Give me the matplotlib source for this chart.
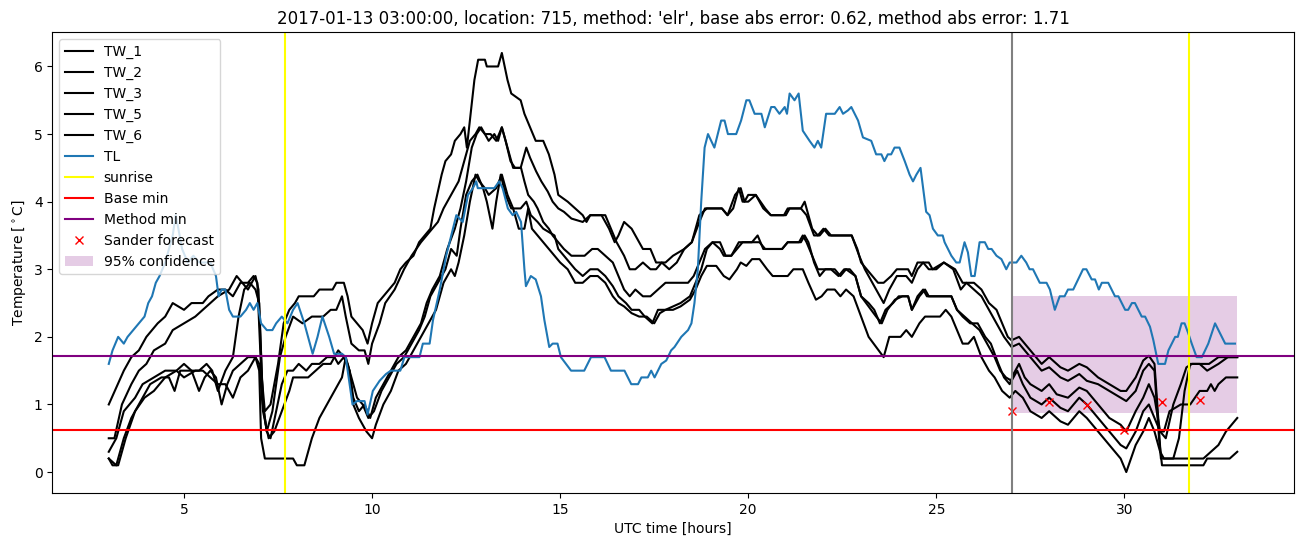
import numpy as np
import matplotlib
matplotlib.use("Agg")
import matplotlib.pyplot as plt

# readings from the station, hours since 2017-01-13 00:00 UTC
tw1_t = [3.0,3.4,3.6,3.8,4.0,4.3,4.5,4.7,5.0,5.2,5.5,5.65,5.9,6.1,6.3,6.5,6.7,6.85,6.95,7.05,7.15,7.3,7.5,7.65,7.8,7.95,8.05,8.25,8.45,8.6,8.95,9.05,9.25,9.35,9.45,9.6,9.75,9.88,10.0,10.15,10.3,10.45,10.6,10.75,10.9,11.1,11.25,11.4,11.55,11.65,11.85,11.95,12.1,12.2,12.35,12.45,12.52,12.62,12.72,12.82,13.0,13.05,13.35,13.45,13.6,13.7,13.95,14.05,14.2,14.35,14.55,14.7,14.85,14.95,15.2,15.4,15.6,15.7,15.8,16.1,16.3,16.45,16.55,16.7,16.9,17.0,17.2,17.4,17.55,17.8,18.0,18.3,18.5,18.7,18.9,19.3,19.45,19.65,19.8,19.9,20.0,20.2,20.45,20.6,20.95,21.05,21.4,21.5,21.7,21.85,22.0,22.15,22.75,22.9,23.0,23.15,23.3,23.45,23.6,23.8,23.95,24.25,24.35,24.5,24.8,24.9,25.2,25.5,25.7,26.0,26.2,26.4,26.6,26.75,26.9,27.0,27.2,27.5,27.8,28.0,28.3,28.5,28.8,29.0,29.3,29.6,29.9,30.05,30.3,30.5,30.65,30.8,30.9,30.97,32.1,32.3,32.5,32.7,33.0]
tw1_v = [1.0,1.5,1.7,1.8,2.0,2.2,2.3,2.5,2.4,2.5,2.5,2.6,2.7,2.7,2.6,2.8,2.8,2.9,2.8,1.5,0.9,1.0,1.6,2.2,2.4,2.5,2.6,2.6,2.6,2.7,2.7,2.8,2.8,2.6,2.3,2.2,2.1,1.9,2.2,2.5,2.6,2.7,2.8,3.0,3.1,3.2,3.4,3.5,3.6,3.9,4.4,4.6,4.7,4.9,5.0,5.1,4.8,5.3,5.8,6.1,6.1,6.0,6.0,6.2,5.8,5.6,5.5,5.3,5.1,4.9,4.9,4.7,4.4,4.1,4.0,3.9,3.8,3.7,3.8,3.8,3.6,3.4,3.5,3.7,3.6,3.5,3.3,3.3,3.1,3.1,3.2,3.3,3.4,3.8,3.9,3.9,3.8,4.1,4.2,4.0,4.1,4.1,3.9,3.8,3.8,3.9,3.9,4.0,3.6,3.5,3.6,3.5,3.5,3.3,3.1,3.0,2.9,2.8,2.8,2.9,3.0,3.0,2.9,3.1,3.1,3.0,3.1,3.0,2.8,2.8,2.7,2.5,2.4,2.2,2.0,1.95,2.0,1.8,1.6,1.7,1.55,1.5,1.6,1.55,1.4,1.3,1.2,1.2,1.4,1.65,1.72,1.6,0.8,0.2,0.2,0.3,0.4,0.6,0.8]

tw2_t = [3.0,3.15,3.35,3.6,3.8,4.0,4.2,4.5,4.7,5.0,5.3,5.5,5.7,5.9,6.2,6.4,6.55,6.7,6.9,6.98,7.1,7.2,7.35,7.55,7.7,7.9,8.15,8.4,8.7,8.9,9.05,9.2,9.3,9.45,9.65,9.8,9.9,10.0,10.2,10.35,10.6,10.85,11.05,11.3,11.6,11.75,11.9,12.1,12.3,12.45,12.6,12.75,12.85,13.0,13.1,13.25,13.35,13.45,13.6,13.75,13.95,14.1,14.2,14.36,14.5,14.67,14.8,14.95,15.1,15.3,15.6,15.8,16.0,16.2,16.35,16.5,16.7,16.85,17.0,17.2,17.4,17.55,17.7,17.9,18.1,18.3,18.5,18.7,18.85,19.3,19.45,19.6,19.75,19.85,20.0,20.2,20.4,20.6,21.0,21.1,21.4,21.55,21.75,21.9,22.05,22.2,22.75,22.95,23.1,23.3,23.5,23.6,23.75,23.95,24.2,24.35,24.5,24.65,24.8,25.0,25.2,25.45,25.65,25.8,26.0,26.2,26.4,26.6,26.8,27.0,27.2,27.5,27.8,28.0,28.3,28.5,28.8,29.0,29.3,29.6,29.9,30.05,30.3,30.5,30.65,30.8,30.92,31.0,32.1,32.2,32.8,33.0]
tw2_v = [0.5,0.5,1.0,1.3,1.5,1.6,1.8,1.9,2.1,2.2,2.3,2.4,2.5,2.6,2.7,2.9,2.8,2.7,2.9,2.7,1.0,0.6,0.9,1.7,2.0,2.3,2.2,2.3,2.3,2.4,2.4,2.6,2.3,1.9,1.8,1.8,1.6,1.9,2.2,2.5,2.7,3.0,3.2,3.4,3.6,3.7,3.9,4.1,4.3,4.6,4.9,5.0,5.1,5.0,4.9,5.0,4.9,5.1,4.8,4.5,4.5,4.8,4.65,4.45,4.3,4.15,4.0,3.9,3.85,3.75,3.7,3.8,3.8,3.8,3.6,3.4,3.2,3.0,3.0,3.1,3.0,3.0,3.1,3.0,3.1,3.3,3.4,3.7,3.9,3.9,3.8,3.9,4.2,4.0,4.0,4.1,3.9,3.8,3.8,3.9,3.9,3.8,3.5,3.5,3.6,3.5,3.5,3.2,3.0,2.8,2.6,2.5,2.7,2.9,2.9,2.8,3.0,3.1,3.0,3.0,3.1,3.0,2.7,2.8,2.7,2.6,2.4,2.2,2.0,1.85,1.9,1.7,1.5,1.55,1.4,1.35,1.45,1.35,1.3,1.2,1.1,1.05,1.2,1.5,1.6,1.5,0.5,0.1,0.1,0.2,0.2,0.3]

tw3_t = [3.0,3.2,3.4,3.7,3.9,4.2,4.5,4.8,5.0,5.2,5.4,5.6,5.75,5.9,6.1,6.3,6.45,6.6,6.75,6.9,7.0,7.1,7.2,7.3,7.45,7.6,7.75,7.9,8.05,8.25,8.4,8.6,8.8,9.0,9.1,9.25,9.4,9.5,9.65,9.8,9.95,10.1,10.3,10.5,10.7,10.9,11.1,11.3,11.45,11.6,11.8,12.0,12.2,12.35,12.5,12.65,12.78,12.9,13.0,13.15,13.3,13.45,13.55,13.68,13.8,13.96,14.05,14.15,14.3,14.4,14.55,14.7,14.8,14.95,15.1,15.3,15.5,15.65,15.85,16.0,16.2,16.4,16.55,16.7,16.85,17.0,17.2,17.4,17.6,17.8,18.0,18.4,18.55,18.7,18.85,19.05,19.25,19.4,19.55,19.7,19.85,20.1,20.25,20.4,20.9,21.05,21.35,21.45,21.55,21.7,21.85,22.0,22.2,22.4,22.55,22.7,22.85,23.0,23.2,23.35,23.5,23.65,23.85,24.0,24.25,24.35,24.5,24.65,24.75,25.1,25.4,25.55,25.7,25.9,26.1,26.3,26.45,26.65,26.8,26.95,27.05,27.2,27.35,27.5,27.8,28.0,28.2,28.5,28.8,29.0,29.3,29.6,29.9,30.05,30.3,30.5,30.65,30.8,30.95,31.1,31.3,31.5,31.65,31.8,32.0,32.25,32.5,33.0]
tw3_v = [0.3,0.5,0.9,1.1,1.3,1.4,1.5,1.5,1.6,1.5,1.5,1.6,1.5,1.2,1.5,1.7,2.3,2.7,2.8,2.7,2.5,1.0,0.6,0.5,0.9,1.3,1.5,1.5,1.6,1.5,1.6,1.6,1.7,1.7,1.6,1.7,1.5,1.1,0.9,1.0,0.8,1.1,1.3,1.5,1.7,1.8,2.0,2.2,2.5,2.7,2.9,3.3,3.6,3.9,4.3,4.8,5.0,5.1,5.0,5.0,4.9,5.1,4.9,4.6,4.5,4.5,4.3,4.1,4.0,3.9,3.7,3.6,3.5,3.4,3.3,3.2,3.2,3.2,3.3,3.3,3.2,3.1,2.9,2.7,2.6,2.7,2.6,2.6,2.7,2.8,2.8,2.8,2.9,3.1,3.3,3.4,3.4,3.2,3.2,3.3,3.4,3.4,3.5,3.3,3.3,3.4,3.4,3.5,3.4,3.2,3.0,3.0,3.0,2.9,3.0,3.0,2.9,2.6,2.5,2.4,2.2,2.4,2.5,2.6,2.6,2.4,2.6,2.7,2.6,2.6,2.6,2.4,2.3,2.2,2.2,2.0,1.9,1.6,1.4,1.3,1.45,1.6,1.4,1.3,1.2,1.3,1.15,1.1,1.25,1.2,1.0,0.8,0.7,0.6,0.9,1.1,1.3,1.1,0.6,0.5,1.0,1.3,1.55,1.6,1.6,1.6,1.7,1.7]

tw5_t = [3.0,3.2,3.4,3.6,3.9,4.1,4.4,4.6,4.75,4.9,5.2,5.4,5.55,5.7,5.85,6.0,6.15,6.3,6.5,6.7,6.9,7.0,7.1,7.25,7.4,7.6,7.8,7.9,8.1,8.3,8.5,8.7,8.9,9.1,9.25,9.35,9.5,9.6,9.75,9.9,10.05,10.25,10.45,10.65,10.85,11.05,11.25,11.4,11.55,11.75,11.95,12.1,12.25,12.35,12.5,12.65,12.8,12.95,13.05,13.2,13.3,13.42,13.55,13.7,13.95,14.1,14.22,14.4,14.55,14.7,14.85,14.95,15.1,15.25,15.4,15.6,15.8,16.0,16.2,16.4,16.55,16.75,16.9,17.1,17.25,17.45,17.6,17.8,18.0,18.2,18.45,18.6,18.75,18.9,19.05,19.25,19.35,19.55,19.75,20.1,20.3,20.45,20.9,21.05,21.4,21.5,21.6,21.75,21.9,22.05,22.3,22.45,22.6,22.85,23.0,23.2,23.4,23.55,23.7,23.9,24.1,24.25,24.35,24.55,24.7,24.8,25.4,25.55,25.75,25.95,26.15,26.35,26.55,26.7,26.85,27.0,27.15,27.3,27.5,27.8,28.0,28.3,28.5,28.8,29.0,29.3,29.6,29.9,30.05,30.3,30.5,30.65,30.8,30.95,31.05,31.2,31.5,31.75,32.0,32.2,32.3,32.4,32.5,32.7,33.0]
tw5_v = [0.2,0.1,0.5,0.8,1.1,1.3,1.4,1.4,1.2,1.5,1.5,1.2,1.4,1.5,1.4,1.0,1.3,1.5,1.6,1.7,1.7,1.6,0.9,0.5,0.6,0.9,1.2,1.4,1.4,1.4,1.5,1.6,1.6,1.8,1.7,1.6,1.3,1.1,1.0,0.8,0.9,1.2,1.4,1.6,1.7,1.9,2.1,2.3,2.6,2.8,3.0,3.3,3.2,3.6,4.1,4.3,4.4,4.2,4.0,3.6,4.0,4.4,4.1,3.9,3.9,4.0,3.8,3.7,3.6,3.55,3.5,3.3,3.2,3.1,3.0,2.9,3.0,3.0,2.9,2.75,2.6,2.5,2.4,2.4,2.3,2.2,2.4,2.4,2.45,2.5,2.6,2.8,3.0,3.3,3.4,3.3,3.2,3.2,3.4,3.4,3.4,3.3,3.3,3.4,3.4,3.5,3.4,3.1,2.9,3.0,3.0,2.9,3.0,2.9,2.6,2.45,2.3,2.2,2.4,2.55,2.6,2.6,2.4,2.6,2.7,2.6,2.6,2.4,2.3,2.2,2.1,1.9,1.7,1.5,1.4,1.35,1.5,1.3,1.1,1.0,1.1,0.95,0.9,1.1,1.0,0.8,0.6,0.4,0.35,0.6,0.9,1.0,0.8,0.6,0.6,0.9,1.0,1.0,1.2,1.2,1.3,1.2,1.3,1.4,1.4]

tw6_t = [3.0,3.1,3.25,3.45,3.7,3.95,4.2,4.5,4.8,5.0,5.3,5.5,5.7,5.9,6.1,6.3,6.5,6.7,6.9,7.0,7.05,7.15,7.9,8.0,8.2,8.4,8.6,8.8,9.0,9.2,9.3,9.4,9.5,9.65,9.85,10.0,10.1,10.3,10.5,10.7,10.9,11.1,11.3,11.5,11.7,11.9,12.1,12.2,12.3,12.45,12.6,12.75,12.85,13.0,13.1,13.3,13.45,13.6,13.75,13.9,14.05,14.15,14.25,14.4,14.55,14.7,14.85,15.0,15.2,15.4,15.6,15.8,16.0,16.2,16.4,16.55,16.7,16.9,17.1,17.3,17.5,17.65,17.8,18.0,18.2,18.45,18.6,18.75,18.9,19.15,19.35,19.5,19.7,19.8,19.95,20.1,20.3,20.5,20.65,21.05,21.2,21.45,21.6,21.8,21.95,22.1,22.3,22.45,22.6,22.8,23.0,23.2,23.4,23.6,23.75,24.05,24.2,24.35,24.55,24.7,25.1,25.25,25.4,25.55,25.7,25.85,26.0,26.2,26.4,26.55,26.75,26.95,27.1,27.3,27.5,27.8,28.0,28.3,28.5,28.8,29.0,29.3,29.6,29.9,30.05,30.3,30.5,30.65,30.8,30.95,31.05,31.3,31.45,31.6,31.75,32.0,32.2,32.5,32.75,33.0]
tw6_v = [0.2,0.1,0.1,0.5,0.9,1.1,1.2,1.4,1.5,1.4,1.5,1.5,1.4,1.3,1.3,1.1,1.4,1.5,1.7,1.5,0.5,0.2,0.2,0.1,0.1,0.5,0.8,1.0,1.2,1.4,1.7,1.5,1.0,0.8,0.6,0.5,0.7,1.0,1.2,1.5,1.6,1.8,2.0,2.2,2.4,2.8,3.0,2.9,3.1,3.5,4.0,4.4,4.3,4.2,4.1,4.2,4.4,4.1,3.9,3.6,3.6,3.9,3.6,3.5,3.4,3.3,3.2,3.1,3.0,2.8,2.8,2.9,2.9,2.8,2.6,2.5,2.45,2.35,2.3,2.3,2.2,2.35,2.4,2.4,2.45,2.55,2.7,2.9,3.05,3.05,2.9,2.85,3.0,3.1,3.05,3.15,3.15,3.0,2.9,2.9,3.0,3.0,2.8,2.55,2.6,2.7,2.7,2.6,2.7,2.6,2.3,2.0,1.85,1.7,2.0,2.0,2.1,2.0,2.2,2.3,2.3,2.4,2.3,2.1,1.9,1.9,2.0,1.7,1.5,1.4,1.2,1.1,1.2,1.1,0.9,0.8,0.9,0.75,0.7,0.9,0.8,0.6,0.4,0.2,0.0,0.4,0.6,0.8,0.6,0.3,0.2,0.2,0.5,1.2,1.6,1.6,1.5,1.6,1.7,1.7]

tl_t = [3.0,3.1,3.25,3.4,3.5,3.65,3.8,3.95,4.05,4.15,4.25,4.35,4.5,4.6,4.7,4.78,4.85,4.95,5.1,5.25,5.4,5.7,5.85,5.92,6.0,6.1,6.2,6.3,6.5,6.65,6.75,6.85,6.95,7.05,7.2,7.35,7.45,7.6,7.75,7.9,8.02,8.2,8.42,8.55,8.68,8.86,8.99,9.2,9.3,9.48,9.6,9.8,9.88,10.02,10.2,10.37,10.5,10.75,10.86,11.26,11.35,11.53,11.62,11.8,11.97,12.24,12.41,12.55,12.68,12.77,12.81,13.25,13.38,13.47,13.61,13.74,13.83,13.96,14.05,14.09,14.22,14.35,14.49,14.58,14.71,14.8,14.93,15.02,15.29,15.64,15.82,16.18,16.35,16.71,16.89,17.07,17.16,17.33,17.42,17.51,17.69,17.82,17.95,18.04,18.22,18.4,18.49,18.57,18.66,18.75,18.84,18.93,19.1,19.28,19.37,19.46,19.68,19.81,19.95,20.03,20.17,20.35,20.44,20.61,20.7,20.83,20.97,21.03,21.1,21.23,21.34,21.45,21.63,21.76,21.85,21.94,22.07,22.3,22.43,22.52,22.65,22.74,22.92,23.05,23.27,23.4,23.54,23.62,23.71,23.8,23.89,24.02,24.16,24.29,24.38,24.47,24.58,24.73,24.82,24.91,25.04,25.17,25.22,25.31,25.4,25.53,25.62,25.75,25.84,25.93,26.02,26.15,26.29,26.38,26.47,26.6,26.73,26.86,26.95,27.13,27.26,27.39,27.48,27.57,27.66,27.75,27.93,28.02,28.15,28.28,28.41,28.5,28.64,28.77,28.9,28.99,29.13,29.22,29.32,29.4,29.57,29.75,29.84,30.02,30.1,30.2,30.28,30.37,30.46,30.55,30.68,30.77,30.9,31.08,31.17,31.35,31.42,31.52,31.6,31.7,31.79,31.92,32.06,32.23,32.41,32.68,32.94]
tl_v = [1.6,1.8,2.0,1.9,2.0,2.1,2.2,2.3,2.5,2.6,2.8,2.9,3.1,3.3,3.5,3.8,3.6,3.3,3.1,3.2,3.1,3.1,2.9,2.6,2.7,2.7,2.4,2.3,2.3,2.4,2.5,2.4,2.5,2.2,2.1,2.1,2.2,2.3,2.2,2.4,2.5,2.2,1.75,2.0,2.3,2.0,1.75,1.75,1.7,1.0,1.05,1.05,0.85,1.2,1.35,1.45,1.5,1.5,1.7,1.7,1.9,1.9,2.25,2.7,3.2,3.8,3.7,4.1,4.2,4.3,4.2,4.2,4.3,4.2,3.9,3.8,3.85,3.7,3.0,2.75,2.9,2.85,2.6,2.25,1.85,1.9,1.9,1.7,1.5,1.5,1.7,1.7,1.5,1.5,1.3,1.3,1.4,1.4,1.5,1.4,1.6,1.65,1.8,1.85,2.0,2.1,2.2,2.5,3.0,4.0,4.8,5.0,4.8,5.2,5.2,5.0,5.0,5.2,5.5,5.5,5.3,5.3,5.1,5.4,5.4,5.3,5.4,5.3,5.6,5.5,5.6,5.05,4.9,4.8,4.9,4.8,5.3,5.3,5.4,5.3,5.35,5.4,5.2,4.95,4.9,4.7,4.7,4.6,4.7,4.7,4.8,4.8,4.6,4.4,4.3,4.4,4.5,3.85,3.8,3.6,3.5,3.5,3.4,3.3,3.2,3.1,3.1,3.4,3.25,2.9,2.9,3.4,3.4,3.3,3.3,3.2,3.15,3.0,3.1,3.1,3.2,3.1,3.0,3.0,2.9,2.8,2.8,2.7,2.4,2.6,2.6,2.7,2.7,2.85,3.0,3.0,2.85,2.85,2.7,2.8,2.8,2.6,2.6,2.4,2.4,2.5,2.5,2.4,2.3,2.3,2.15,1.95,1.6,1.6,1.8,2.0,2.0,2.2,2.2,2.05,1.9,1.7,1.7,1.9,2.2,1.9,1.9]

sunrise_hours = [7.69, 31.72]
base_min = 0.62
method_min = 1.71
forecast_start = 27.0
sander_t = [27, 28, 29, 30, 31, 32]
sander_v = [0.9, 1.03, 0.99, 0.62, 1.03, 1.06]
conf_t = [27, 33]
conf_low = 0.87
conf_high = 2.6

title = ("2017-01-13 03:00:00, location: 715, method: 'elr', "
         "base abs error: 0.62, method abs error: 1.71")

fig, ax = plt.subplots(figsize=(13.02, 5.47), dpi=100)
fig.subplots_adjust(left=0.0402, right=0.9936, bottom=0.0987, top=0.9415)

ax.plot(tw1_t, tw1_v, color='k', label='TW_1')
ax.plot(tw2_t, tw2_v, color='k', label='TW_2')
ax.plot(tw3_t, tw3_v, color='k', label='TW_3')
ax.plot(tw5_t, tw5_v, color='k', label='TW_5')
ax.plot(tw6_t, tw6_v, color='k', label='TW_6')
ax.plot(tl_t, tl_v, color='C0', label='TL')

for i, s in enumerate(sunrise_hours):
    ax.axvline(s, color='yellow', label='sunrise' if i == 0 else None)
ax.axhline(base_min, color='red', label='Base min')
ax.axhline(method_min, color='purple', label='Method min')
ax.plot(sander_t, sander_v, 'x', color='red', label='Sander forecast')
ax.axvline(forecast_start, color='gray')
ax.fill_between(conf_t, conf_low, conf_high, color='purple', alpha=0.2,
                linewidth=0, label='95% confidence')

ax.set_title(title)
ax.set_xlabel('UTC time [hours]')
ax.set_ylabel(r'Temperature [$^\circ$C]')
ax.legend(loc='upper left')

fig.savefig('out.png', dpi=100)
